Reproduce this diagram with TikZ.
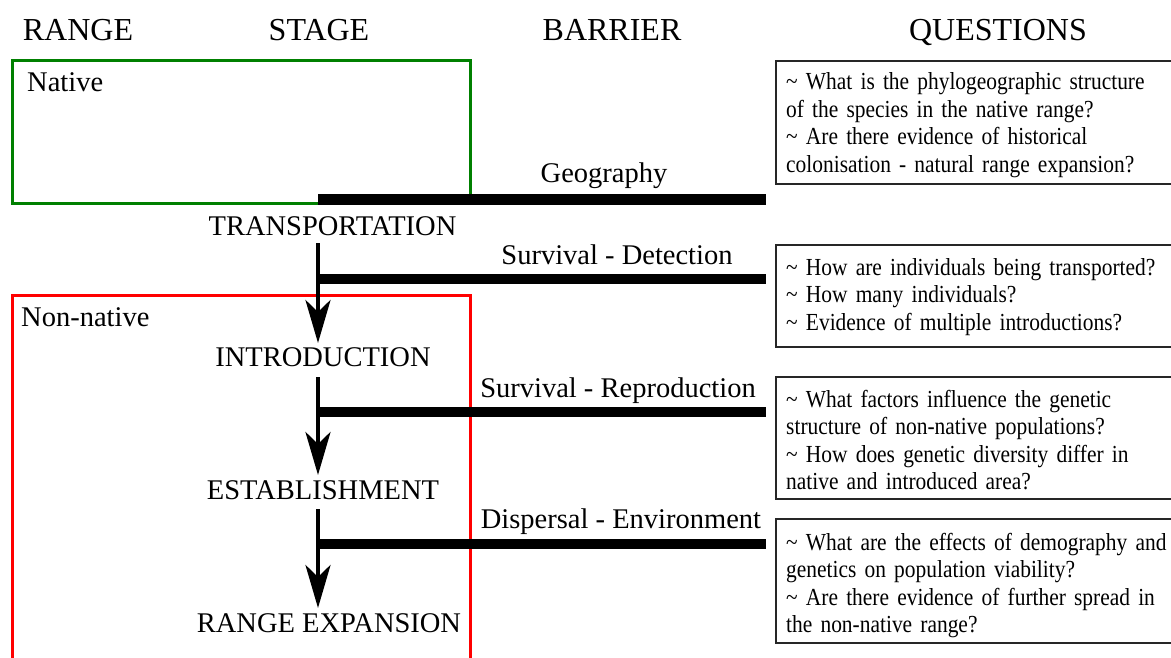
\documentclass[tikz,border=0pt]{standalone}
\usepackage{fontspec}
\setmainfont{Liberation Serif}
\newfontfamily\qfont[FakeStretch=0.875]{Liberation Serif}
\usetikzlibrary{arrows.meta}
\definecolor{natgreen}{RGB}{0,128,0}
\definecolor{nonred}{RGB}{255,0,0}
\begin{document}
\begin{tikzpicture}[x=1pt,y=-1pt,
  head/.style={font=\fontsize{32}{38}\selectfont, inner sep=0pt, anchor=base},
  stagelabel/.style={font=\fontsize{28.5}{34}\selectfont, inner sep=0pt, anchor=base},
  barlabel/.style={font=\fontsize{28.5}{34}\selectfont, inner sep=0pt, anchor=base},
  rangelabel/.style={font=\fontsize{28.5}{34}\selectfont, inner sep=0pt, anchor=base west},
  bar/.style={line width=10.5pt},
  spine/.style={line width=4.5pt, -{Stealth[length=43pt,width=25pt,inset=12pt]}},
  rangebox/.style={line width=3pt},
  qbox/.style={draw=black!85, line width=1.6pt, anchor=north west, minimum width=410pt, inner sep=0pt},
  qtext/.style={font=\qfont\fontsize{24.5}{27.6}\selectfont, inner sep=0pt, anchor=base west, text width=400pt, align=left},
]
\useasboundingbox (0,0) rectangle (1171,657);
\clip (0,0) rectangle (1171,657);

% headings
\node[head] (hrange) at (78,40) {RANGE};
\node[head] (hstage) at (319,40) {STAGE};
\node[head] (hbarrier) at (612,40) {BARRIER};
\node[head] (hquest) at (998,40) {QUESTIONS};

% range boxes
\draw[rangebox, natgreen] (12,60) rectangle (470.5,203);
\node[rangelabel] (native) at (27,91) {Native};
\draw[rangebox, nonred] (12,295) rectangle (470,690);
\node[rangelabel] (nonnative) at (21,326) {Non-native};

% stages
\node[stagelabel] (transport) at (332.5,235) {TRANSPORTATION};
\node[stagelabel] (intro) at (323,366) {INTRODUCTION};
\node[stagelabel] (establish) at (323,499) {ESTABLISHMENT};
\node[stagelabel] (expansion) at (329,632) {RANGE EXPANSION};

% spine coordinates
\coordinate (g0) at (318,199.5);
\coordinate (g1) at (766,199.5);
\coordinate (s1) at (318,243);
\coordinate (j1) at (318,279);
\coordinate (b1) at (766,279);
\coordinate (e1) at (318,343);
\coordinate (s2) at (318,377);
\coordinate (j2) at (318,412);
\coordinate (b2) at (766,412);
\coordinate (e2) at (318,475);
\coordinate (s3) at (318,509);
\coordinate (j3) at (318,544);
\coordinate (b3) at (766,544);
\coordinate (e3) at (318,608);

% barriers
\draw[bar] (g0) -- (g1);
\draw[bar] (j1) -- (b1);
\draw[bar] (j2) -- (b2);
\draw[bar] (j3) -- (b3);
\draw[spine] (s1) -- (e1);
\draw[spine] (s2) -- (e2);
\draw[spine] (s3) -- (e3);

\node[barlabel] (geo) at (604,182) {Geography};
\node[barlabel] (survdet) at (617,264) {Survival - Detection};
\node[barlabel] (survrep) at (618,397) {Survival - Reproduction};
\node[barlabel] (dispenv) at (621,528) {Dispersal - Environment};

% question boxes
\node[qbox, minimum height=123pt] (q1) at (775,60) {};
\node[qbox, minimum height=102pt] (q2) at (775,244) {};
\node[qbox, minimum height=122pt] (q3) at (775,376) {};
\node[qbox, minimum height=124pt] (q4) at (775,518) {};

\node[qtext] (q1t) at (786,89.5) {\textasciitilde{} What is the phylogeographic structure\\of the species in the native range?\\\textasciitilde{} Are there evidence of historical\\colonisation - natural range expansion?};
\node[qtext] (q2t) at (786,275) {\textasciitilde{} How are individuals being transported?\\\textasciitilde{} How many individuals?\\\textasciitilde{} Evidence of multiple introductions?};
\node[qtext] (q3t) at (786,407) {\textasciitilde{} What factors influence the genetic\\structure of non-native populations?\\\textasciitilde{} How does genetic diversity differ in\\native and introduced area?};
\node[qtext] (q4t) at (786,550) {\textasciitilde{} What are the effects of demography and\\genetics on population viability?\\\textasciitilde{} Are there evidence of further spread in\\the non-native range?};
\end{tikzpicture}
\end{document}
